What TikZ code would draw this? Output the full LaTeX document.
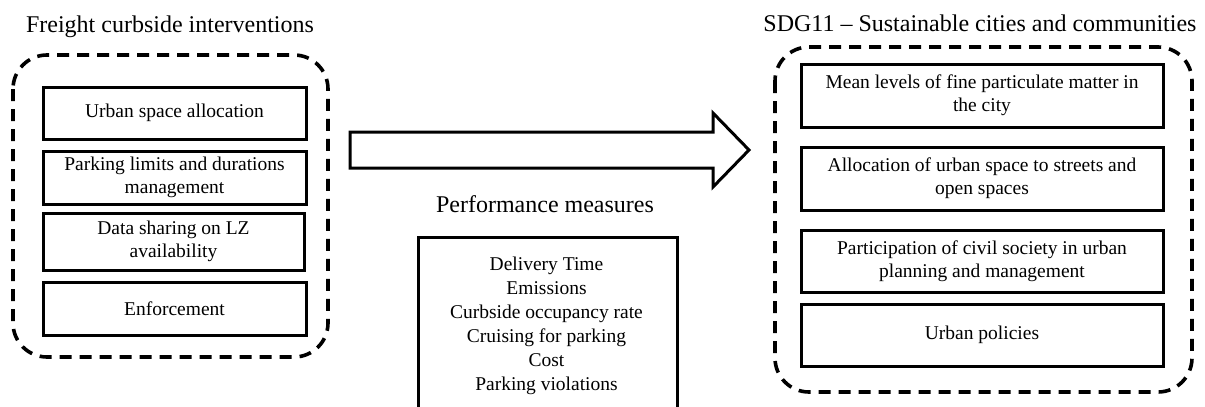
\documentclass[tikz,border=0pt]{standalone}
\usepackage{fontspec}
\setmainfont{Liberation Serif}
\begin{document}
\begin{tikzpicture}[x=1pt,y=-1pt,
  group/.style={draw, line width=3.6pt, dash pattern=on 12pt off 8pt, rounded corners=34pt},
  item/.style={draw, line width=3pt, align=center, inner sep=0pt,
    font=\fontsize{19.5}{23.4}\selectfont},
  heading/.style={anchor=base, font=\fontsize{24}{28}\selectfont},
  bigarrow/.style={draw, line width=3pt, line join=miter, fill=white}]
\useasboundingbox (0,0) rectangle (1205,407);
\clip (0,0) rectangle (1205,407);

% headings
\node[heading] (ltitle) at (170,32) {Freight curbside interventions};
\node[heading] (rtitle) at (980,31) {SDG11 -- Sustainable cities and communities};
\node[heading] (ptitle) at (545,212) {Performance measures};

% left group: interventions
\draw[group] (13,55) rectangle (328,357);
\node[item, minimum width=263pt, minimum height=52pt] (l1) at (174.5,113) {Urban space allocation};
\node[item, minimum width=263pt, minimum height=53pt] (l2) at (174.5,177.5) {Parking limits and durations\\management};
\node[item, minimum width=261pt, minimum height=57pt] (l3) at (173.5,241.5) {Data sharing on LZ\\availability};
\node[item, minimum width=263pt, minimum height=53pt] (l4) at (174.5,308.5) {Enforcement};

% right group: SDG11 indicators
\draw[group] (775,47) rectangle (1192,392);
\node[item, minimum width=362pt, minimum height=63pt] (r1) at (982,95.5) {Mean levels of fine particulate matter in\\the city};
\node[item, minimum width=362pt, minimum height=63pt] (r2) at (982,178.5) {Allocation of urban space to streets and\\open spaces};
\node[item, minimum width=362pt, minimum height=62pt] (r3) at (982,261) {Participation of civil society in urban\\planning and management};
\node[item, minimum width=362pt, minimum height=62pt] (r4) at (982,335) {Urban policies};

% block arrow between the groups
\coordinate (a0) at (350,132);
\coordinate (tip) at (749,150);
\draw[bigarrow] (a0) -- (713,132) -- (713,113) -- (tip) -- (713,187) -- (713,168) -- (350,168) -- cycle;

% performance measures box
\node[draw, line width=3pt, minimum width=259pt, minimum height=200pt, anchor=north west, inner sep=0pt] (mbox) at (417,236) {};
\node[align=center, inner sep=0pt, font=\fontsize{19.5}{24}\selectfont] (mtext) at (546.5,326)
  {Delivery Time\\Emissions\\Curbside occupancy rate\\Cruising for parking\\Cost\\Parking violations};
\end{tikzpicture}
\end{document}
